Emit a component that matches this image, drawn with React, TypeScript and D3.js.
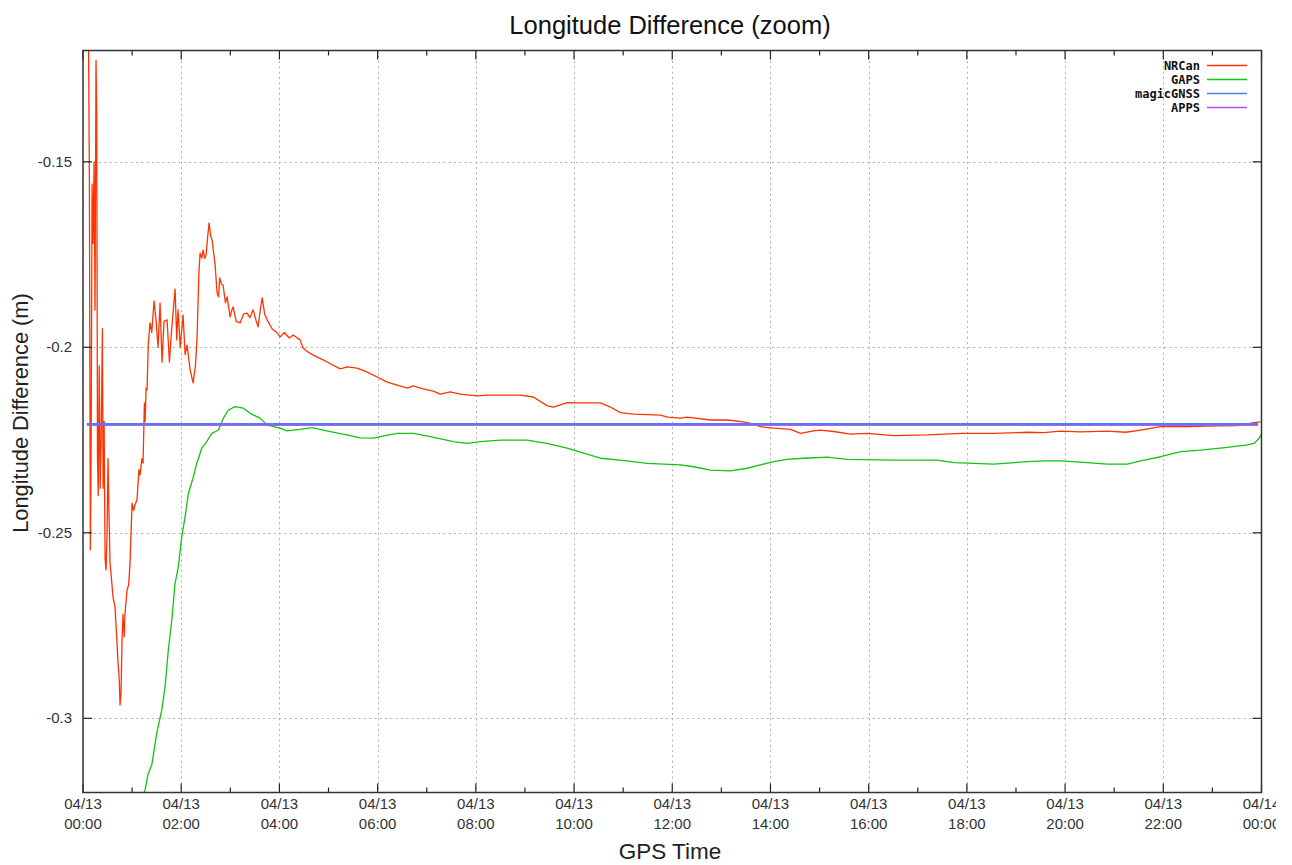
import React from "react";
import * as d3 from "d3";

// ---- data (hours since 04/13 00:00, longitude difference in m) ----
const nrcanData: [number, number][] = [
  [0.110, -0.1118], [0.130, -0.1541], [0.150, -0.2546], [0.165, -0.2290], [0.185, -0.1560],
  [0.205, -0.1720], [0.225, -0.1500], [0.245, -0.1900], [0.265, -0.1226], [0.280, -0.1380],
  [0.295, -0.2300], [0.310, -0.2400], [0.330, -0.2050], [0.350, -0.2380], [0.370, -0.2250],
  [0.395, -0.1950], [0.410, -0.2380], [0.430, -0.2200], [0.450, -0.2570], [0.470, -0.2600],
  [0.490, -0.2500], [0.510, -0.2300], [0.530, -0.2450], [0.550, -0.2580], [0.590, -0.2640],
  [0.611, -0.2673], [0.652, -0.2700], [0.690, -0.2790], [0.713, -0.2850], [0.740, -0.2900],
  [0.754, -0.2964], [0.775, -0.2930], [0.795, -0.2790], [0.815, -0.2720], [0.840, -0.2780],
  [0.856, -0.2716], [0.897, -0.2654], [0.930, -0.2640], [0.958, -0.2581], [0.999, -0.2420],
  [1.030, -0.2440], [1.060, -0.2425], [1.100, -0.2410], [1.140, -0.2330], [1.162, -0.2344],
  [1.200, -0.2300], [1.223, -0.2312], [1.250, -0.2150], [1.264, -0.2200], [1.285, -0.2110],
  [1.304, -0.2115], [1.330, -0.1990], [1.365, -0.1934], [1.400, -0.1960], [1.447, -0.1875],
  [1.490, -0.1930], [1.528, -0.2000], [1.569, -0.1881], [1.610, -0.2040], [1.650, -0.1930],
  [1.712, -0.1926], [1.760, -0.2040], [1.800, -0.1960], [1.875, -0.1843], [1.910, -0.1980],
  [1.936, -0.1899], [1.980, -0.2000], [2.038, -0.1913], [2.080, -0.2020], [2.119, -0.1994],
  [2.181, -0.2060], [2.242, -0.2096], [2.290, -0.2050], [2.323, -0.1972], [2.360, -0.1800],
  [2.384, -0.1746], [2.420, -0.1760], [2.445, -0.1738], [2.480, -0.1760], [2.507, -0.1751],
  [2.540, -0.1700], [2.568, -0.1665], [2.600, -0.1700], [2.629, -0.1711], [2.690, -0.1778],
  [2.731, -0.1854], [2.760, -0.1864], [2.784, -0.1813], [2.820, -0.1830], [2.853, -0.1832],
  [2.900, -0.1880], [2.935, -0.1864], [2.996, -0.1918], [3.030, -0.1900], [3.057, -0.1891],
  [3.120, -0.1930], [3.200, -0.1934], [3.270, -0.1910], [3.342, -0.1908], [3.400, -0.1920],
  [3.464, -0.1899], [3.530, -0.1930], [3.566, -0.1945], [3.610, -0.1900], [3.648, -0.1867],
  [3.700, -0.1910], [3.750, -0.1926], [3.850, -0.1950], [3.953, -0.1961], [4.015, -0.1972],
  [4.100, -0.1960], [4.200, -0.1975], [4.280, -0.1967], [4.422, -0.1980], [4.483, -0.2002],
  [4.550, -0.2010], [4.687, -0.2021], [4.891, -0.2034], [5.050, -0.2045], [5.237, -0.2058],
  [5.380, -0.2053], [5.584, -0.2056], [5.788, -0.2067], [5.991, -0.2080], [6.195, -0.2094],
  [6.399, -0.2102], [6.603, -0.2110], [6.725, -0.2104], [6.929, -0.2112], [7.133, -0.2118],
  [7.275, -0.2126], [7.479, -0.2120], [7.683, -0.2126], [8.029, -0.2131], [8.233, -0.2129],
  [8.906, -0.2129], [9.171, -0.2134], [9.456, -0.2158], [9.578, -0.2161], [9.864, -0.2149],
  [10.129, -0.2150], [10.536, -0.2150], [10.740, -0.2161], [10.944, -0.2176], [11.209, -0.2180],
  [11.759, -0.2183], [11.902, -0.2188], [12.167, -0.2191], [12.309, -0.2188], [12.778, -0.2196],
  [13.124, -0.2196], [13.450, -0.2201], [13.593, -0.2205], [13.797, -0.2214], [14.000, -0.2217],
  [14.408, -0.2221], [14.612, -0.2232], [14.877, -0.2225], [15.019, -0.2223], [15.284, -0.2227],
  [15.631, -0.2234], [15.977, -0.2232], [16.507, -0.2238], [17.200, -0.2236], [17.873, -0.2232],
  [18.545, -0.2232], [19.238, -0.2229], [19.564, -0.2230], [19.911, -0.2226], [20.318, -0.2228],
  [20.869, -0.2226], [21.235, -0.2229], [21.541, -0.2223], [21.948, -0.2214], [22.498, -0.2214],
  [23.110, -0.2212], [23.518, -0.2211], [23.844, -0.2203], [23.986, -0.2201],
];

const gapsData: [number, number][] = [
  [1.121, -0.3240], [1.264, -0.3193], [1.331, -0.3148], [1.400, -0.3126], [1.502, -0.3040],
  [1.604, -0.2978], [1.671, -0.2915], [1.738, -0.2816], [1.808, -0.2735], [1.875, -0.2636],
  [1.942, -0.2591], [2.011, -0.2511], [2.079, -0.2457], [2.146, -0.2394], [2.248, -0.2349],
  [2.317, -0.2313], [2.419, -0.2272], [2.521, -0.2254], [2.623, -0.2232], [2.757, -0.2223],
  [2.859, -0.2191], [2.961, -0.2169], [3.098, -0.2160], [3.267, -0.2164], [3.403, -0.2178],
  [3.607, -0.2191], [3.744, -0.2209], [4.015, -0.2218], [4.151, -0.2225], [4.422, -0.2221],
  [4.626, -0.2217], [4.693, -0.2217], [5.034, -0.2227], [5.374, -0.2236], [5.645, -0.2244],
  [5.916, -0.2245], [6.053, -0.2241], [6.393, -0.2232], [6.731, -0.2232], [7.072, -0.2241],
  [7.546, -0.2254], [7.820, -0.2259], [8.091, -0.2254], [8.498, -0.2250], [9.042, -0.2250],
  [9.450, -0.2259], [9.857, -0.2272], [10.265, -0.2288], [10.536, -0.2299], [11.080, -0.2306],
  [11.488, -0.2313], [12.167, -0.2317], [12.437, -0.2322], [12.778, -0.2331], [13.185, -0.2333],
  [13.526, -0.2326], [13.797, -0.2317], [14.068, -0.2308], [14.341, -0.2302], [14.679, -0.2299],
  [15.156, -0.2296], [15.563, -0.2302], [16.513, -0.2304], [17.397, -0.2304], [17.735, -0.2311],
  [18.551, -0.2315], [19.232, -0.2308], [19.570, -0.2306], [19.911, -0.2306], [20.454, -0.2311],
  [20.862, -0.2315], [21.270, -0.2315], [21.541, -0.2306], [21.948, -0.2295], [22.356, -0.2281],
  [22.763, -0.2277], [23.307, -0.2270], [23.715, -0.2263], [23.850, -0.2259], [23.952, -0.2245],
  [24.017, -0.2231],
];

const magicGnssData: [number, number][] = [
  [0.08, -0.2207], [23.93, -0.2207],
];

const appsData: [number, number][] = [
  [0.08, -0.22105], [23.93, -0.22105],
];

const seriesNames = ["NRCan", "GAPS", "magicGNSS", "APPS"];
const seriesColors = ["#ff3300", "#11c411", "#4a7ff5", "#b84cf0"];

const xTickHours = [0, 2, 4, 6, 8, 10, 12, 14, 16, 18, 20, 22, 24];
const xTickDates = ["04/13", "04/13", "04/13", "04/13", "04/13", "04/13", "04/13", "04/13", "04/13", "04/13", "04/13", "04/13", "04/14"];
const xTickTimes = ["00:00", "02:00", "04:00", "06:00", "08:00", "10:00", "12:00", "14:00", "16:00", "18:00", "20:00", "22:00", "00:00"];
const xMinorHours = [1, 3, 5, 7, 9, 11, 13, 15, 17, 19, 21, 23];
const yTicks = [-0.3, -0.25, -0.2, -0.15];
const yTickLabels = ["-0.3", "-0.25", "-0.2", "-0.15"];

const W = 1292;
const H = 865;
const L = 83, R = 1261.5, T = 50.5, B = 792.5;

export default function App() {
  const x = d3.scaleLinear().domain([0, 24]).range([L, R]);
  const y = d3.scaleLinear().domain([-0.32, -0.12]).range([B, T]);
  const line = d3.line<[number, number]>().x((d) => x(d[0])).y((d) => y(d[1]));
  const font = "'Liberation Sans', Arial, sans-serif";
  const data = [nrcanData, gapsData, magicGnssData, appsData];
  const widths = [1.3, 1.3, 2.2, 1];

  return (
    <svg width={W} height={H} style={{ position: "absolute", left: 0, top: 0, background: "#fff" }}>
      <defs>
        <clipPath id="plotClip">
          <rect x={L} y={T} width={R - L} height={B - T} />
        </clipPath>
        <clipPath id="pageClip">
          <rect x={0} y={0} width={1276} height={H} />
        </clipPath>
      </defs>
      {/* grid */}
      <g stroke="#b0b0b0" strokeWidth={1} strokeDasharray="2,3.3">
        {xTickHours.slice(1, -1).map((h) => (
          <line key={"gx" + h} x1={Math.round(x(h)) + 0.5} x2={Math.round(x(h)) + 0.5} y1={T} y2={B} />
        ))}
        {yTicks.map((v) => (
          <line key={"gy" + v} x1={L} x2={R} y1={Math.round(y(v)) + 0.5} y2={Math.round(y(v)) + 0.5} />
        ))}
      </g>
      {/* series */}
      <g clipPath="url(#plotClip)" fill="none" strokeLinejoin="round">
        {data.map((d, i) => (
          <path key={seriesNames[i]} d={line(d) || ""} stroke={seriesColors[i]} strokeWidth={widths[i]} />
        ))}
      </g>
      {/* ticks */}
      <g stroke="#222" strokeWidth={1.2}>
        {xTickHours.map((h) => (
          <g key={"tx" + h}>
            <line x1={x(h)} x2={x(h)} y1={B} y2={B - 9} />
            <line x1={x(h)} x2={x(h)} y1={T} y2={T + 9} />
          </g>
        ))}
        {xMinorHours.map((h) => (
          <g key={"tm" + h}>
            <line x1={x(h)} x2={x(h)} y1={B} y2={B - 5} />
            <line x1={x(h)} x2={x(h)} y1={T} y2={T + 5} />
          </g>
        ))}
        {yTicks.map((v) => (
          <g key={"ty" + v}>
            <line x1={L} x2={L + 9} y1={y(v)} y2={y(v)} />
            <line x1={R} x2={R - 9} y1={y(v)} y2={y(v)} />
          </g>
        ))}
      </g>
      {/* border */}
      <rect x={L} y={T} width={R - L} height={B - T} fill="none" stroke="#333" strokeWidth={1.5} />
      {/* tick labels */}
      <g fontFamily={font} fontSize={15} fill="#333" clipPath="url(#pageClip)">
        {xTickHours.map((h, i) => (
          <text key={"lx" + h} x={x(h)} textAnchor="middle">
            <tspan x={x(h)} y={809}>{xTickDates[i]}</tspan>
            <tspan x={x(h)} y={829}>{xTickTimes[i]}</tspan>
          </text>
        ))}
        {yTicks.map((v, i) => (
          <text key={"ly" + v} x={72} y={y(v) + 5} textAnchor="end">{yTickLabels[i]}</text>
        ))}
      </g>
      {/* titles */}
      <text x={670} y={34} textAnchor="middle" fontFamily={font} fontSize={25.5} fill="#111">
        Longitude Difference (zoom)
      </text>
      <text x={670} y={859} textAnchor="middle" fontFamily={font} fontSize={22.5} fill="#222">
        GPS Time
      </text>
      <text transform="translate(28,413) rotate(-90)" textAnchor="middle" fontFamily={font} fontSize={21.8} fill="#222">
        Longitude Difference (m)
      </text>
      {/* legend */}
      <g fontFamily="'DejaVu Sans Mono', monospace" fontWeight="bold" fontSize={12} fill="#111">
        {seriesNames.map((n, i) => (
          <g key={"lg" + n}>
            <text x={1200} y={65.5 + i * 14 + 4} textAnchor="end">{n}</text>
            <line x1={1207} x2={1247} y1={65.5 + i * 14} y2={65.5 + i * 14} stroke={seriesColors[i]} strokeWidth={1.5} />
          </g>
        ))}
      </g>
    </svg>
  );
}
